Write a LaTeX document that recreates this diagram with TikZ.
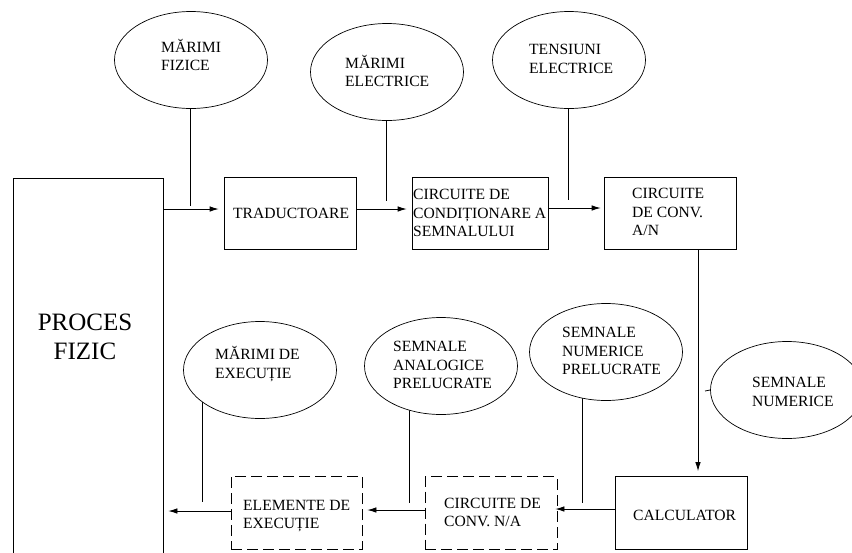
\documentclass[tikz,border=0pt]{standalone}
\usepackage{fontspec}
\setmainfont{Liberation Serif}
\usetikzlibrary{arrows.meta,backgrounds,shapes.geometric}
\begin{document}
\begin{tikzpicture}[x=1pt,y=-1pt,
  ell/.style={draw, ellipse, fill=white, minimum width=153pt, minimum height=97pt, inner sep=0pt, line width=0.7pt},
  boxx/.style={draw, rectangle, inner sep=0pt, line width=0.8pt},
  dbox/.style={boxx, dash pattern=on 11pt off 5pt},
  txt/.style={anchor=west, align=left, inner sep=0pt, font=\fontsize{15.6}{18.5}\selectfont},
  arr/.style={-{Latex[length=9pt,width=5.5pt]}, line width=0.8pt, shorten >=5pt},
  ln/.style={line width=0.8pt}]
\clip (0,0) rectangle (852,552);

% boxes
\node[boxx, minimum width=150pt, minimum height=422pt] (proc) at (88,389) {};
\node[align=center, inner sep=0pt, font=\fontsize{25}{29}\selectfont] (proct) at (85,337) {PROCES\\FIZIC};
\node[boxx, minimum width=132pt, minimum height=72pt] (trad) at (290,213) {};
\node[boxx, minimum width=136pt, minimum height=72pt] (cond) at (480,213) {};
\node[boxx, minimum width=132pt, minimum height=72pt] (an) at (670,213) {};
\node[boxx, minimum width=132pt, minimum height=73pt] (calc) at (681,513) {};
\node[dbox, minimum width=132pt, minimum height=73pt] (na) at (491,513) {};
\node[dbox, minimum width=131pt, minimum height=73pt] (elem) at (296.5,512.5) {};

% ellipses
\node[ell] (e1) at (191,60) {};
\node[ell] (e2) at (387,72) {};
\node[ell] (e3) at (569,60) {};
\node[ell] (e4) at (606,352) {};
\node[ell] (e5) at (787,390) {};
\node[ell] (e6) at (441,366) {};
\node[ell] (e7) at (260,370) {};

% texts
\node[txt] (t1) at (161,55) {MĂRIMI\\FIZICE};
\node[txt] (t2) at (345,71) {MĂRIMI\\ELECTRICE};
\node[txt] (t3) at (529,59) {TENSIUNI\\ELECTRICE};
\node[txt] (ttrad) at (233,213) {TRADUCTOARE};
\node[txt] (tcond) at (413,213) {CIRCUITE DE\\CONDIȚIONARE A\\SEMNALULUI};
\node[txt] (tan) at (632,212) {CIRCUITE\\DE CONV.\\A/N};
\node[txt] (tcalc) at (633,515) {CALCULATOR};
\node[txt] (t4) at (562,351) {SEMNALE\\NUMERICE\\PRELUCRATE};
\node[txt] (t5) at (752,392) {SEMNALE\\NUMERICE};
\node[txt] (t6) at (393,365) {SEMNALE\\ANALOGICE\\PRELUCRATE};
\node[txt] (t7) at (215,364) {MĂRIMI DE\\EXECUȚIE};
\node[txt] (telem) at (243,516) {ELEMENTE DE\\EXECUȚIE};
\node[txt] (tna) at (444,512.5) {CIRCUITE DE\\CONV. N/A};

% coordinates
\coordinate (p1) at (190,206);
\coordinate (p2) at (386,201);
\coordinate (p3) at (568,200);
\coordinate (p4) at (582,503);
\coordinate (p6) at (409,503);
\coordinate (p7) at (202,502);
\coordinate (s5) at (705,391);
\coordinate (ya) at (0,209);
\coordinate (yb) at (0,208);
\coordinate (yc) at (0,509);
\coordinate (yd) at (0,510);
\coordinate (ye) at (0,511);
\coordinate (xa) at (698,0);

% lines from ellipses (behind)
\begin{pgfonlayer}{background}
\fill[white] (0,0) rectangle (852,552);
\draw[ln] (e1.center -| p1) -- (p1);
\draw[ln] (e2.center -| p2) -- (p2);
\draw[ln] (e3.center -| p3) -- (p3);
\draw[ln] (e4.center -| p4) -- (p4);
\draw[ln] (e6.center -| p6) -- (p6);
\draw[ln] (e7.center -| p7) -- (p7);
\end{pgfonlayer}
\draw[ln] (s5) -- (e5.west);

% arrows
\draw[arr] (proc.east |- ya) -- (trad.west |- ya);
\draw[arr] (trad.east |- ya) -- (cond.west |- ya);
\draw[arr, shorten >=3pt] (cond.east |- yb) -- (an.west |- yb);
\draw[arr] (an.south -| xa) -- (calc.north -| xa);
\draw[arr, shorten >=-2pt] (calc.west |- yc) -- (na.east |- yc);
\draw[arr] (na.west |- yd) -- (elem.east |- yd);
\draw[arr] (elem.west |- ye) -- (proc.east |- ye);
\end{tikzpicture}
\end{document}
